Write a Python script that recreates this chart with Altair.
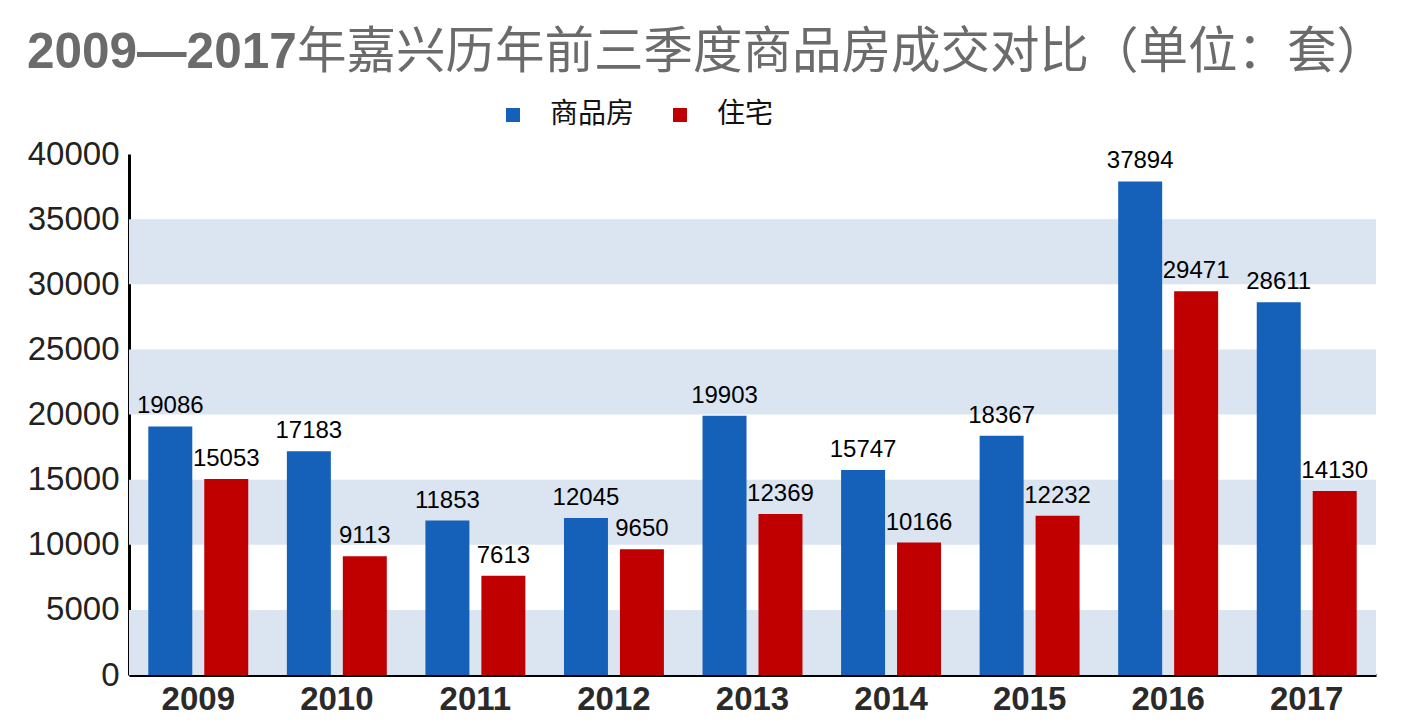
import altair as alt
import pandas as pd

years = ["2009", "2010", "2011", "2012", "2013", "2014", "2015", "2016", "2017"]
series = ["商品房", "住宅"]
commercial = [19086, 17183, 11853, 12045, 19903, 15747, 18367, 37894, 28611]
residential = [15053, 9113, 7613, 9650, 12369, 10166, 12232, 29471, 14130]
band_lo = [0, 10000, 20000, 30000]
band_hi = [5000, 15000, 25000, 35000]
y_ticks = [0, 5000, 10000, 15000, 20000, 25000, 30000, 35000, 40000]
title_bold = "2009—2017"
title_rest = "年嘉兴历年前三季度商品房成交对比（单位：套）"
colors = ["#1560b8", "#c00000"]

rows = []
for i, y in enumerate(years):
    rows.append({"year": y, "series": series[0], "value": commercial[i]})
    rows.append({"year": y, "series": series[1], "value": residential[i]})
df = pd.DataFrame(rows)
bands_df = pd.DataFrame({"lo": band_lo, "hi": band_hi})

W, H = 1247, 521
yscale = alt.Scale(domain=[0, 40000], nice=False, zero=True)
yaxis = alt.Axis(
    title=None, values=y_ticks, format="d", ticks=False, grid=False, domainColor="#000000",
    domainWidth=3, labelFontSize=33, labelFont="Liberation Sans",
    labelColor="#222222", labelPadding=10,
)

bands = alt.Chart(bands_df).mark_rect(color="#dbe5f1").encode(
    y=alt.Y("lo:Q", scale=yscale, axis=yaxis),
    y2="hi:Q",
)

xenc = alt.X(
    "year:N",
    sort=years,
    scale=alt.Scale(paddingInner=0, paddingOuter=0),
    axis=alt.Axis(
        title=None, labelAngle=0, ticks=False, domainColor="#000000", domainWidth=3,
        labelFontSize=33, labelFontWeight="bold", labelFont="Liberation Sans",
        labelColor="#2a2a2a", labelPadding=8,
    ),
)
xoff = alt.XOffset(
    "series:N", sort=series,
    scale=alt.Scale(domain=series, paddingInner=0.214, paddingOuter=0.345),
)

bars = alt.Chart(df).mark_bar().encode(
    x=xenc,
    xOffset=xoff,
    y=alt.Y("value:Q", scale=yscale, axis=yaxis),
    color=alt.Color(
        "series:N", sort=series,
        scale=alt.Scale(domain=series, range=colors),
        legend=alt.Legend(
            orient="none", legendX=370, legendY=-53, direction="horizontal", title=None,
            symbolType="square", symbolSize=196, symbolStrokeWidth=0,
            labelFontSize=28, labelFont="Noto Sans CJK SC", labelColor="#111111",
            labelOffset=23, columnPadding=31,
        ),
    ),
)

labels = alt.Chart(df).mark_text(
    baseline="alphabetic", dy=-13, fontSize=24, font="Liberation Sans", color="#000000"
).encode(
    x=alt.X("year:N", sort=years),
    xOffset=xoff,
    y=alt.Y("value:Q", scale=yscale),
    text=alt.Text("value:Q", format="d"),
)

t1 = alt.Chart(pd.DataFrame({"t": [title_bold]})).mark_text(
    align="left", baseline="alphabetic", fontSize=49.5, fontWeight="bold",
    font="Liberation Sans", color="#6b6b6b",
).encode(x=alt.value(-102), y=alt.value(-86), text="t:N")

t2 = alt.Chart(pd.DataFrame({"t": [title_rest]})).mark_text(
    align="left", baseline="alphabetic", fontSize=49.5,
    font="Noto Sans CJK SC", color="#6b6b6b",
).encode(x=alt.value(168), y=alt.value(-86), text="t:N")

chart = alt.layer(bands, bars, labels, t1, t2).properties(
    width=W, height=H,
    autosize=alt.AutoSizeParams(type="none"),
    padding={"left": 121, "top": 146, "right": 20, "bottom": 40},
).configure_view(stroke=None)

chart.save("out.html", embed_options={"renderer": "svg", "actions": False})
